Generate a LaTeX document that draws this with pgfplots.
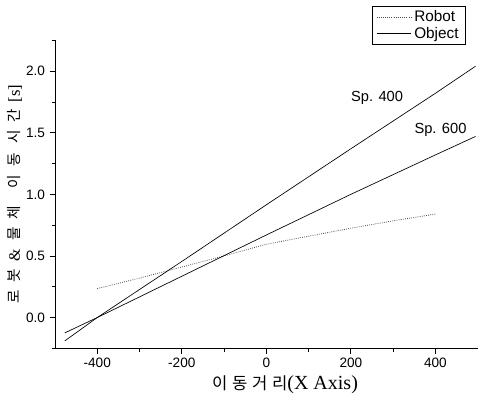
\documentclass[border=0pt]{standalone}
\usepackage{fontspec}
\setmainfont{Liberation Sans}
\newfontfamily\kr{Noto Sans CJK KR}
\newfontfamily\lserif{Liberation Serif}
\usepackage{pgfplots}
\pgfplotsset{compat=1.18}
\begin{document}
\begin{tikzpicture}
\begin{axis}[
  scale only axis, width=317pt, height=231pt,
  xmin=-500, xmax=500, ymin=-0.25, ymax=2.25,
  axis x line*=bottom, axis y line*=left,
  axis line style={-, line width=0.7pt},
  xtick={-400,-200,0,200,400}, minor xtick={-300,-100,100,300},
  ytick={0,0.5,1.0,1.5,2.0}, minor ytick={-0.25,0.25,0.75,1.25,1.75,2.25},
  tick align=outside, major tick length=4pt, minor tick length=2.5pt,
  tick style={black, line width=0.6pt},
  /pgf/number format/assume math mode=true,
  yticklabel style={/pgf/number format/.cd, fixed, fixed zerofill, precision=1},
  ticklabel style={font=\fontsize{10.2}{12}\selectfont},
  xlabel={{\kr 이\hspace{3.5pt}동\hspace{3.5pt}거\hspace{3.5pt}리}{\lserif\fontsize{15}{17}\selectfont (X Axis)}},
  xlabel style={font=\fontsize{12.5}{14}\selectfont, yshift=1pt, xshift=14pt},
  ylabel={{\kr 로\hspace{6pt}봇\hspace{6pt}}{\lserif\fontsize{12}{14}\selectfont\&}{\kr\hspace{6pt}물\hspace{6pt}체\hspace{13pt}이\hspace{6pt}동\hspace{7pt}시\hspace{6pt}간\hspace{5pt}}{\lserif\fontsize{12.5}{14}\selectfont [s]}},
  ylabel style={font=\fontsize{11}{13}\selectfont, yshift=-4pt},
  legend style={at={(0.9716,1.113)}, anchor=north east, draw=black, line width=0.6pt,
    font=\fontsize{11.5}{13}\selectfont, inner xsep=3pt, inner ysep=1.5pt, row sep=-1.5pt,
    cells={anchor=west}},
  legend image code/.code={\draw[#1] (0pt,0pt) -- (26pt,0pt);},
  clip=false,
]
\addplot[black!70, densely dotted, line width=0.6pt] coordinates {
  (-400,0.235) (-300,0.32) (-200,0.41) (-100,0.50) (0,0.595) (100,0.66) (200,0.725) (300,0.785) (400,0.84)};
\addlegendentry{Robot}
\addplot[black, line width=0.5pt] coordinates {
  (-477,-0.19) (-400,0.0) (-200,0.455) (0,0.915) (200,1.37) (400,1.82) (495,2.04)};
\addlegendentry{Object}
\addplot[black, line width=0.5pt, forget plot] coordinates {
  (-477,-0.125) (-400,0.0) (-200,0.335) (0,0.67) (200,1.0) (400,1.32) (495,1.47)};
\node[font=\fontsize{11}{13}\selectfont] at (axis cs:262,1.78) {Sp. 400};
\node[font=\fontsize{11}{13}\selectfont] at (axis cs:412,1.52) {Sp. 600};
\end{axis}
\pgfresetboundingbox
\path ([shift={(-41.25pt,-41pt)}]current axis.south west) rectangle ++(358.5pt,302.25pt);
\end{tikzpicture}
\end{document}
